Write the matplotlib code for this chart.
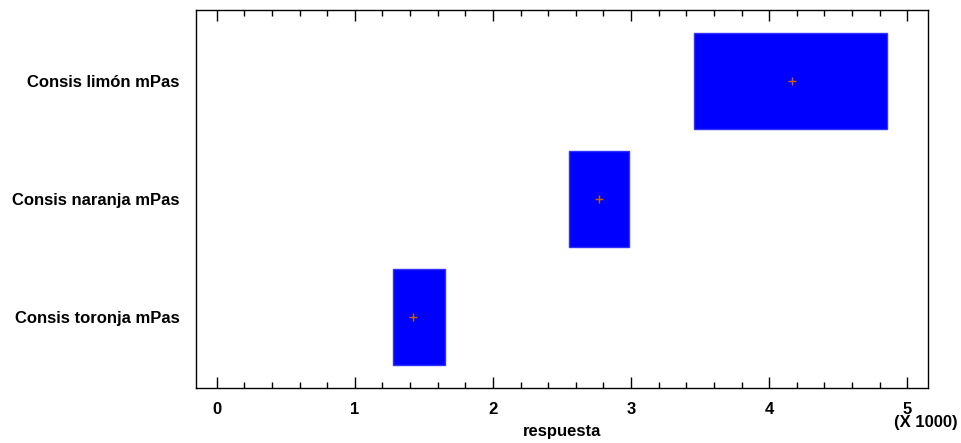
import matplotlib
matplotlib.use("Agg")
import matplotlib.pyplot as plt
from matplotlib.patches import Rectangle
from matplotlib.ticker import MultipleLocator

# Datos (respuesta, mPas)
categorias = ["Consis toronja mPas", "Consis naranja mPas", "Consis limón mPas"]
q1 = [1278, 2552, 3458]
q3 = [1654, 2987, 4855]
medias = [1423, 2770, 4168]

fuente = ['Liberation Sans Narrow', 'Liberation Sans', 'DejaVu Sans']
plt.rcParams['font.family'] = fuente
plt.rcParams['font.weight'] = 'bold'

fig = plt.figure(figsize=(9.62, 4.43), dpi=100)
ax = fig.add_axes([196 / 962, 1 - 388 / 443, (928 - 196) / 962, (388 - 10) / 443])

alto = 0.81
for i, cat in enumerate(categorias):
    ax.add_patch(Rectangle((q1[i], i - alto / 2), q3[i] - q1[i], alto,
                           facecolor='#0000FF', edgecolor='#3333FF', lw=1))
    ax.plot(medias[i], i, marker='+', color='#C86400', ms=6, mew=1)

ax.set_xlim(-150, 5150)
ax.set_ylim(-0.6, 2.6)
ax.set_yticks(range(len(categorias)))
ax.set_yticklabels(categorias, fontsize=12, fontweight='bold')
ax.xaxis.set_major_locator(MultipleLocator(1000))
ax.xaxis.set_minor_locator(MultipleLocator(200))
ax.set_xticks([0, 1000, 2000, 3000, 4000, 5000])
ax.set_xticklabels(['0', '1', '2', '3', '4', '5'], fontsize=12, fontweight='bold')
ax.tick_params(axis='x', which='major', direction='in', length=8, width=1,
               top=True, pad=10)
ax.tick_params(axis='x', which='minor', direction='in', length=4, width=1, top=True)
ax.tick_params(axis='y', length=0, pad=12)
for s in ax.spines.values():
    s.set_linewidth(1)

ax.set_xlabel('respuesta', fontsize=12, fontweight='bold', labelpad=5)
fig.text(926 / 962, 1 - 423 / 443, '(X 1000)', fontsize=12, fontweight='bold',
         ha='center', va='center')

fig.savefig('out.png', dpi=100)
